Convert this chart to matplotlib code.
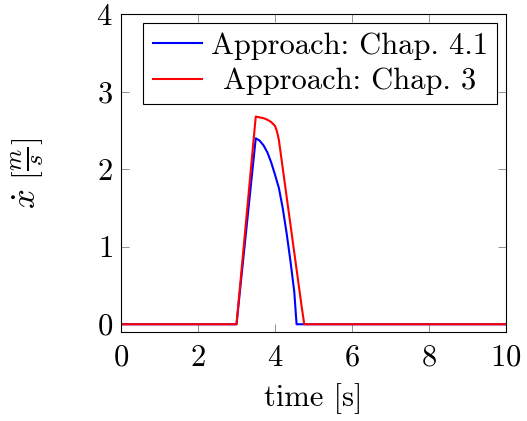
import numpy as np
import matplotlib
matplotlib.use("Agg")
import matplotlib.pyplot as plt
from matplotlib.transforms import Affine2D

# velocity profiles
t_new = [0.0, 3.0, 3.5, 3.6, 3.7, 3.8, 3.9, 4.0, 4.1, 4.2, 4.3, 4.4, 4.5, 4.56, 10.0]
v_new = [0.0, 0.0, 2.40, 2.37, 2.31, 2.22, 2.09, 1.93, 1.76, 1.50, 1.18, 0.82, 0.42, 0.0, 0.0]
t_old = [0.0, 3.0, 3.5, 3.6, 3.7, 3.8, 3.9, 4.0, 4.05, 4.1, 4.7, 4.76, 10.0]
v_old = [0.0, 0.0, 2.68, 2.67, 2.66, 2.64, 2.61, 2.56, 2.49, 2.38, 0.2, 0.0, 0.0]
labels = ["Approach: Chap. 4.1", "Approach: Chap. 3"]
xticks = [0, 2, 4, 6, 8, 10]
yticks = [0, 1, 2, 3, 4]

FS = 22
plt.rcParams.update({
    "font.family": "serif",
    "font.serif": ["cmr10"],
    "mathtext.fontset": "cm",
    "axes.formatter.use_mathtext": True,
    "font.size": FS,
})

fig = plt.figure(figsize=(5.27, 4.21), dpi=100)
ax = fig.add_axes([0.2296, 0.2114, 0.7306, 0.7546])
ax.plot(t_new, v_new, color="blue", lw=1.5, label=labels[0])
ax.plot(t_old, v_old, color="red", lw=1.5, label=labels[1])
ax.set_xlim(0, 10)
ax.set_ylim(-0.1, 4)
ax.set_xticks(xticks)
ax.set_yticks(yticks)
ax.tick_params(direction="in", top=True, right=True, length=6, width=0.6,
               color="#808080", labelsize=FS, pad=6)
ax.tick_params(axis="x", pad=9)
for s in ax.spines.values():
    s.set_linewidth(0.8)
ax.set_xlabel("time [s]", fontsize=FS, labelpad=8)
ax.set_ylabel(r"$\dot{x}\ \left[\frac{m}{s}\right]$", fontsize=25, labelpad=36)
leg = ax.legend(loc="upper right", fancybox=False, edgecolor="black", framealpha=1,
                borderaxespad=0.3, handlelength=1.6, handletextpad=0.3,
                borderpad=0.3, labelspacing=0.25, fontsize=22)
leg.get_frame().set_linewidth(0.8)

# centre the legend texts in their column, like pgfplots does
fig.canvas.draw()
r = fig.canvas.get_renderer()
texts = leg.get_texts()
widths = [t.get_window_extent(r).width for t in texts]
wmax = max(widths)
for t, w in zip(texts, widths):
    t.set_transform(t.get_transform() + Affine2D().translate((wmax - w) / 2, 0))

fig.savefig("out.png", dpi=100)
